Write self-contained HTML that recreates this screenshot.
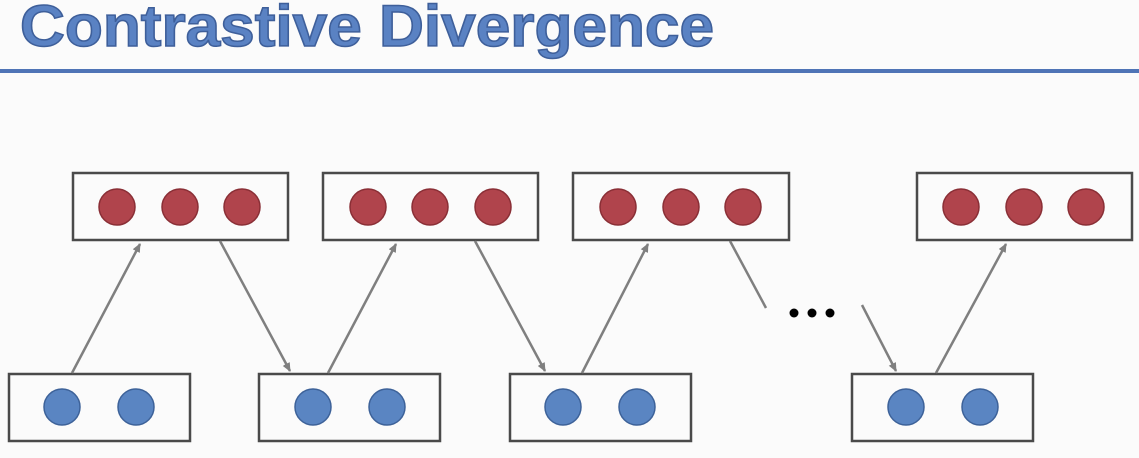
<!DOCTYPE html>
<html><head><style>
html,body{margin:0;padding:0;background:#fbfbfb;}
svg{display:block;}
</style></head><body>
<svg width="1139" height="458" viewBox="0 0 1139 458" xmlns="http://www.w3.org/2000/svg">
<defs>
<marker id="ah" markerWidth="10" markerHeight="10" refX="8" refY="5" orient="auto" markerUnits="userSpaceOnUse">
<path d="M0,1 L9,5 L0,9 Z" fill="#7f7f7f"/>
</marker>
</defs>
<rect width="1139" height="458" fill="#fbfbfb"/>
<text x="20" y="46" font-family="Liberation Sans, sans-serif" font-weight="bold" font-size="58" fill="#5a82c3" stroke="#3e5f9a" stroke-width="1.5" textLength="694" lengthAdjust="spacingAndGlyphs">Contrastive Divergence</text>
<rect x="0" y="69" width="1139" height="4" fill="#4f74b6"/>
<g fill="none" stroke="#4a4a4a" stroke-width="2.5">
<rect x="73" y="173" width="215" height="67"/>
<rect x="323" y="173" width="215" height="67"/>
<rect x="573" y="173" width="216" height="67"/>
<rect x="917" y="173" width="215" height="67"/>
<rect x="9" y="374" width="181" height="67"/>
<rect x="259" y="374" width="181" height="67"/>
<rect x="510" y="374" width="181" height="67"/>
<rect x="852" y="374" width="181" height="67"/>
</g>
<g fill="#b0444c" stroke="#8a2f36" stroke-width="1.5">
<circle cx="117" cy="207" r="18"/><circle cx="180" cy="207" r="18"/><circle cx="242" cy="207" r="18"/>
<circle cx="368" cy="207" r="18"/><circle cx="430" cy="207" r="18"/><circle cx="493" cy="207" r="18"/>
<circle cx="618" cy="207" r="18"/><circle cx="681" cy="207" r="18"/><circle cx="743" cy="207" r="18"/>
<circle cx="961" cy="207" r="18"/><circle cx="1024" cy="207" r="18"/><circle cx="1086" cy="207" r="18"/>
</g>
<g fill="#5a85c2" stroke="#3d6299" stroke-width="1.5">
<circle cx="62" cy="407" r="18"/><circle cx="136" cy="407" r="18"/>
<circle cx="313" cy="407" r="18"/><circle cx="387" cy="407" r="18"/>
<circle cx="563" cy="407" r="18"/><circle cx="637" cy="407" r="18"/>
<circle cx="906" cy="407" r="18"/><circle cx="980" cy="407" r="18"/>
</g>
<g stroke="#7f7f7f" stroke-width="2.5" fill="none">
<line x1="72" y1="373" x2="140" y2="244" marker-end="url(#ah)"/>
<line x1="220" y1="241" x2="290" y2="371" marker-end="url(#ah)"/>
<line x1="328" y1="373" x2="396" y2="244" marker-end="url(#ah)"/>
<line x1="475" y1="241" x2="545" y2="371" marker-end="url(#ah)"/>
<line x1="582" y1="373" x2="648" y2="244" marker-end="url(#ah)"/>
<line x1="730" y1="241" x2="766" y2="308"/>
<line x1="862" y1="305" x2="896" y2="371" marker-end="url(#ah)"/>
<line x1="936" y1="373" x2="1006" y2="244" marker-end="url(#ah)"/>
</g>
<g fill="#000">
<circle cx="794" cy="313" r="4.5"/><circle cx="812" cy="313" r="4.5"/><circle cx="830" cy="313" r="4.5"/>
</g>
</svg>
</body></html>
